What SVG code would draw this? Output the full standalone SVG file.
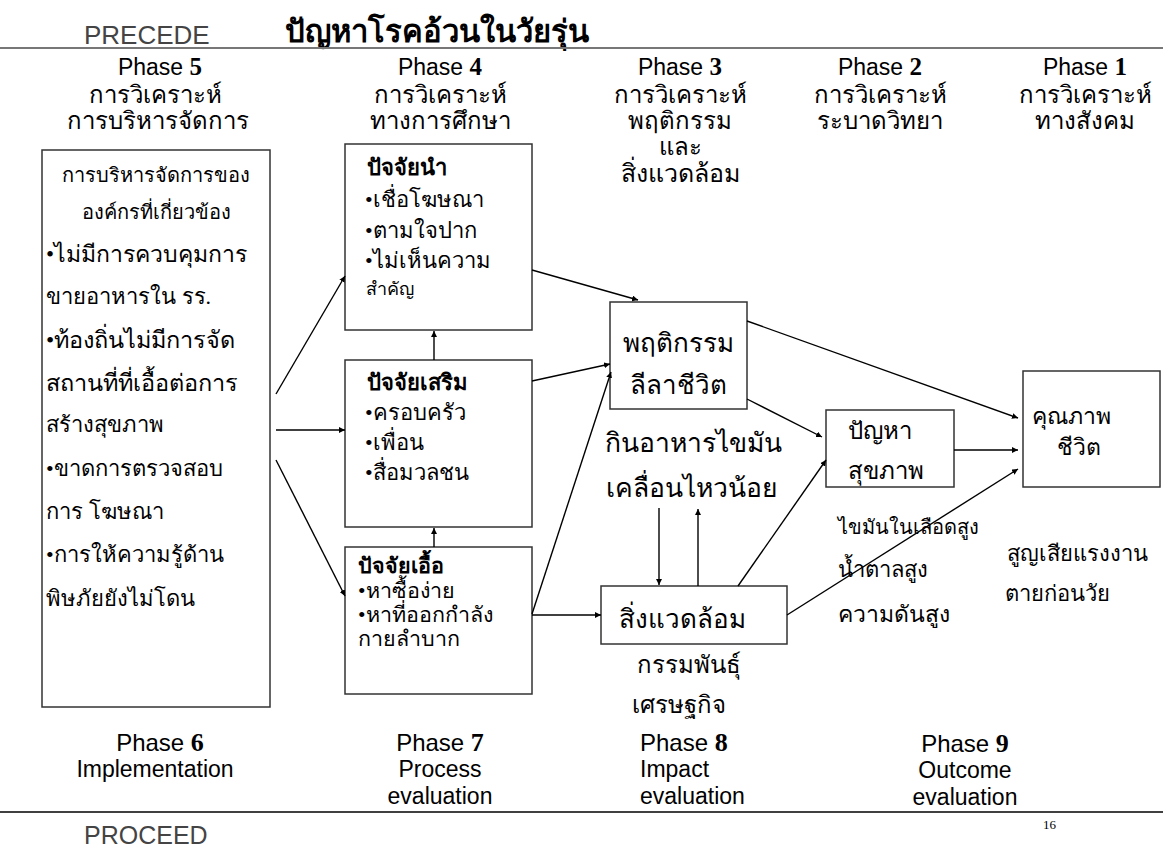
<svg xmlns="http://www.w3.org/2000/svg" width="1163" height="851" viewBox="0 0 1163 851">
<style>
.sans{font-family:"Liberation Sans",Arial,sans-serif;fill:#000}
.gray{fill:#444}
.th{font-family:"Liberation Serif","DejaVu Sans","Noto Sans",serif;fill:#000}
.num{font-family:"Liberation Serif",serif;font-weight:bold}
.box{fill:#fff;stroke:#333;stroke-width:1.5}
.c line{stroke:#000;stroke-width:1.4;marker-end:url(#ah)}
</style>
<defs>
<marker id="ah" viewBox="0 0 10 10" refX="10" refY="5" markerWidth="6" markerHeight="6" markerUnits="userSpaceOnUse" orient="auto"><path d="M0,0 L10,5 L0,10 z" fill="#000"/></marker>
</defs>
<rect width="1163" height="851" fill="#fff"/>
<g id="header">
<text x="84" y="44" class="sans gray" font-size="26">PRECEDE</text>
<text x="285" y="42" class="th" font-size="31" font-weight="bold">ปัญหาโรคอ้วนในวัยรุ่น</text>
<line x1="0" y1="48" x2="1163" y2="48" stroke="#777" stroke-width="2"/>
</g>
<g id="phase-headers" text-anchor="middle">
<text x="160" y="75" class="sans" font-size="23">Phase <tspan class="num" font-size="25">5</tspan></text>
<text x="155" y="103" class="th" font-size="24">การวิเคราะห์</text>
<text x="158" y="129" class="th" font-size="24">การบริหารจัดการ</text>
<text x="440" y="75" class="sans" font-size="23">Phase <tspan class="num" font-size="25">4</tspan></text>
<text x="440" y="103" class="th" font-size="24">การวิเคราะห์</text>
<text x="440" y="129" class="th" font-size="24">ทางการศึกษา</text>
<text x="680" y="75" class="sans" font-size="23">Phase <tspan class="num" font-size="25">3</tspan></text>
<text x="680" y="103" class="th" font-size="24">การวิเคราะห์</text>
<text x="680" y="129" class="th" font-size="24">พฤติกรรม</text>
<text x="680" y="155" class="th" font-size="24">และ</text>
<text x="680" y="182" class="th" font-size="25">สิ่งแวดล้อม</text>
<text x="880" y="75" class="sans" font-size="23">Phase <tspan class="num" font-size="25">2</tspan></text>
<text x="880" y="103" class="th" font-size="24">การวิเคราะห์</text>
<text x="880" y="129" class="th" font-size="24">ระบาดวิทยา</text>
<text x="1085" y="75" class="sans" font-size="23">Phase <tspan class="num" font-size="25">1</tspan></text>
<text x="1085" y="103" class="th" font-size="24">การวิเคราะห์</text>
<text x="1085" y="129" class="th" font-size="24">ทางสังคม</text>
</g>
<g id="admin">
<rect x="42" y="150" width="228" height="557" class="box"/>
<text class="th" font-size="20" text-anchor="middle"><tspan x="156" y="182">การบริหารจัดการของ</tspan><tspan x="156" y="219">องค์กรที่เกี่ยวข้อง</tspan></text>
<text class="th" font-size="22"><tspan x="46" y="262" font-size="23">•ไม่มีการควบคุมการ</tspan><tspan x="46" y="304">ขายอาหารใน รร.</tspan><tspan x="46" y="348" font-size="23.5">•ท้องถิ่นไม่มีการจัด</tspan><tspan x="46" y="391" font-size="23.5">สถานที่ที่เอื้อต่อการ</tspan><tspan x="46" y="432">สร้างสุขภาพ</tspan><tspan x="46" y="476">•ขาดการตรวจสอบ</tspan><tspan x="46" y="519">การ โฆษณา</tspan><tspan x="46" y="562">•การให้ความรู้ด้าน</tspan><tspan x="46" y="606">พิษภัยยังไม่โดน</tspan></text>
</g>
<g id="predisposing">
<rect x="345" y="144" width="187" height="186" class="box"/>
<text class="th" font-size="22"><tspan x="367" y="175" font-weight="bold">ปัจจัยนำ</tspan><tspan x="365" y="207">•เชื่อโฆษณา</tspan><tspan x="365" y="238">•ตามใจปาก</tspan><tspan x="365" y="268">•ไม่เห็นความ</tspan><tspan x="366" y="295" font-size="18">สำคัญ</tspan></text>
</g>
<g id="reinforcing">
<rect x="345" y="360" width="187" height="167" class="box"/>
<text class="th" font-size="22"><tspan x="367" y="390" font-weight="bold">ปัจจัยเสริม</tspan><tspan x="365" y="420">•ครอบครัว</tspan><tspan x="365" y="450">•เพื่อน</tspan><tspan x="365" y="480">•สื่อมวลชน</tspan></text>
</g>
<g id="enabling">
<rect x="345" y="547" width="187" height="147" class="box"/>
<text class="th" font-size="21.5"><tspan x="358" y="573" font-weight="bold">ปัจจัยเอื้อ</tspan><tspan x="358" y="598">•หาซื้อง่าย</tspan><tspan x="358" y="622">•หาที่ออกกำลัง</tspan><tspan x="358" y="646">กายลำบาก</tspan></text>
</g>
<g id="behavior">
<rect x="610" y="302" width="137" height="107" class="box"/>
<text class="th" font-size="26" text-anchor="middle"><tspan x="678" y="352">พฤติกรรม</tspan><tspan x="678" y="394">ลีลาชีวิต</tspan></text>
<text class="th" font-size="26.5" text-anchor="middle"><tspan x="693" y="452">กินอาหารไขมัน</tspan><tspan x="692" y="497">เคลื่อนไหวน้อย</tspan></text>
</g>
<g id="environment">
<rect x="601" y="586" width="186" height="58" class="box"/>
<text class="th" font-size="26" text-anchor="middle" x="682" y="628">สิ่งแวดล้อม</text>
<text class="th" font-size="24" text-anchor="middle"><tspan x="689" y="673">กรรมพันธุ์</tspan><tspan x="679" y="713">เศรษฐกิจ</tspan></text>
</g>
<g id="health">
<rect x="826" y="410" width="128" height="77" class="box"/>
<text class="th" font-size="24"><tspan x="848" y="439">ปัญหา</tspan><tspan x="848" y="479">สุขภาพ</tspan></text>
<text class="th" font-size="22"><tspan x="838" y="534" font-size="20">ไขมันในเลือดสูง</tspan><tspan x="838" y="577">น้ำตาลสูง</tspan><tspan x="838" y="622" font-size="23">ความดันสูง</tspan></text>
</g>
<g id="quality">
<rect x="1023" y="371" width="137" height="116" class="box"/>
<text class="th" font-size="23" text-anchor="middle"><tspan x="1071" y="424">คุณภาพ</tspan><tspan x="1079" y="455">ชีวิต</tspan></text>
<text class="th" font-size="22"><tspan x="1007" y="561">สูญเสียแรงงาน</tspan><tspan x="1005" y="601">ตายก่อนวัย</tspan></text>
</g>
<g id="connectors" class="c">
<line x1="276" y1="394" x2="345" y2="276"/>
<line x1="276" y1="430" x2="345" y2="430"/>
<line x1="276" y1="460" x2="345" y2="596"/>
<line x1="434" y1="360" x2="434" y2="331"/>
<line x1="434" y1="547" x2="434" y2="528"/>
<line x1="532" y1="270" x2="638" y2="300"/>
<line x1="532" y1="381" x2="610" y2="364"/>
<line x1="532" y1="614" x2="611" y2="372"/>
<line x1="532" y1="615" x2="601" y2="615"/>
<line x1="747" y1="321" x2="1018" y2="418"/>
<line x1="747" y1="399" x2="822" y2="437"/>
<line x1="659" y1="508" x2="659" y2="585"/>
<line x1="698" y1="586" x2="698" y2="509"/>
<line x1="738" y1="586" x2="826" y2="460"/>
<line x1="787" y1="615" x2="1018" y2="469"/>
<line x1="954" y1="450" x2="1018" y2="450"/>
</g>
<g id="footer">
<text x="160" y="751" class="sans" font-size="24" text-anchor="middle">Phase <tspan class="num" font-size="26">6</tspan></text>
<text x="155" y="777" class="sans" font-size="23" text-anchor="middle">Implementation</text>
<text x="440" y="751" class="sans" font-size="24" text-anchor="middle">Phase <tspan class="num" font-size="26">7</tspan></text>
<text x="440" y="777" class="sans" font-size="23" text-anchor="middle">Process</text>
<text x="440" y="804" class="sans" font-size="23" text-anchor="middle">evaluation</text>
<text x="640" y="751" class="sans" font-size="24">Phase <tspan class="num" font-size="26">8</tspan></text>
<text x="640" y="777" class="sans" font-size="23">Impact</text>
<text x="640" y="804" class="sans" font-size="23">evaluation</text>
<text x="965" y="752" class="sans" font-size="24" text-anchor="middle">Phase <tspan class="num" font-size="26">9</tspan></text>
<text x="965" y="778" class="sans" font-size="23" text-anchor="middle">Outcome</text>
<text x="965" y="805" class="sans" font-size="23" text-anchor="middle">evaluation</text>
<line x1="0" y1="812" x2="1163" y2="812" stroke="#000" stroke-width="1.5"/>
<text x="84" y="844" class="sans gray" font-size="25">PROCEED</text>
<text x="1043" y="829" font-family="Liberation Serif,serif" font-size="13">16</text>
</g>
</svg>
